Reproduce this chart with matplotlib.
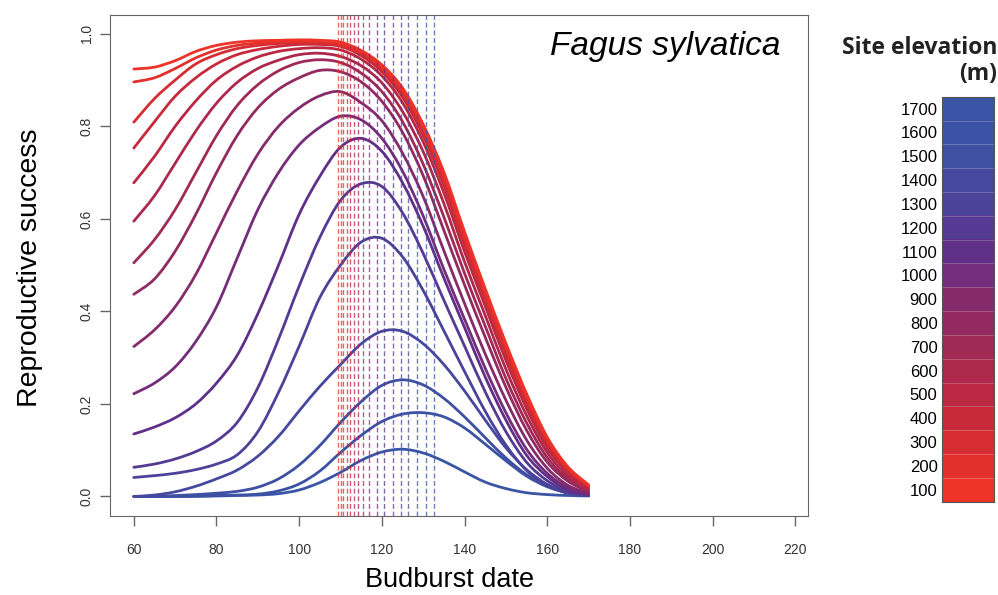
import matplotlib
matplotlib.use('Agg')
import matplotlib.pyplot as plt
from matplotlib.colors import ListedColormap
from matplotlib.path import Path
from matplotlib.patches import PathPatch
import numpy as np

# Budburst dates (days) where each curve is sampled
dates = [60, 65, 70, 75, 80, 85, 90, 95, 100, 105, 110, 115,
         120, 125, 130, 135, 140, 145, 150, 155, 160, 165, 170]

elevations = [100, 200, 300, 400, 500, 600, 700, 800, 900,
              1000, 1100, 1200, 1300, 1400, 1500, 1600, 1700]

# reproductive success, one list per site elevation
rs_100 = [.924, .928, .942, .962, .975, .982, .985, .986, .987, .986, .982, .964,
          .933, .883, .804, .701, .572, .449, .331, .222, .128, .064, .025]
rs_200 = [.896, .905, .925, .948, .965, .975, .980, .983, .984, .983, .978, .959,
          .927, .876, .796, .692, .563, .441, .323, .215, .123, .061, .023]
rs_300 = [.809, .860, .900, .935, .955, .968, .975, .979, .981, .981, .975, .955,
          .923, .870, .789, .682, .555, .433, .315, .209, .119, .059, .022]
rs_400 = [.753, .810, .865, .905, .935, .955, .966, .973, .977, .977, .973, .953,
          .918, .863, .780, .672, .544, .425, .307, .201, .113, .056, .021]
rs_500 = [.678, .735, .800, .855, .900, .930, .950, .962, .968, .970, .965, .945,
          .909, .851, .766, .656, .529, .411, .294, .190, .105, .051, .018]
rs_600 = [.595, .650, .720, .790, .850, .895, .925, .943, .955, .958, .951, .931,
          .894, .832, .745, .633, .507, .391, .275, .175, .095, .044, .015]
rs_700 = [.505, .555, .620, .700, .780, .845, .890, .920, .938, .944, .938, .915,
          .875, .810, .718, .604, .482, .368, .255, .159, .084, .038, .012]
rs_800 = [.437, .470, .530, .610, .700, .780, .840, .880, .905, .921, .918, .896,
          .854, .787, .693, .575, .457, .344, .236, .143, .074, .033, .010]
rs_900 = [.324, .360, .410, .480, .570, .660, .740, .800, .840, .866, .875, .851,
          .812, .742, .648, .531, .417, .308, .208, .122, .061, .024, .007]
rs_1000 = [.222, .245, .280, .335, .410, .515, .620, .700, .760, .798, .822, .814,
           .774, .703, .606, .491, .383, .277, .181, .102, .050, .019, .005]
rs_1100 = [.135, .150, .170, .200, .245, .305, .395, .500, .610, .692, .755, .774,
           .746, .678, .584, .472, .365, .258, .165, .089, .043, .014, .004]
rs_1200 = [.063, .070, .081, .097, .120, .160, .235, .340, .455, .560, .640, .676,
           .670, .613, .525, .424, .325, .226, .140, .074, .034, .011, .003]
rs_1300 = [.041, .045, .050, .058, .070, .090, .140, .225, .325, .430, .500, .550,
           .558, .518, .445, .358, .270, .184, .111, .056, .024, .007, .002]
rs_1400 = [0, .003, .010, .022, .038, .057, .087, .130, .185, .238, .285, .330,
           .357, .357, .330, .285, .228, .165, .105, .058, .026, .009, .002]
rs_1500 = [0, 0, .002, .004, .007, .011, .020, .038, .068, .110, .160, .205,
           .240, .252, .241, .212, .172, .127, .083, .047, .022, .008, .002]
rs_1600 = [0, 0, 0, .001, .002, .003, .005, .012, .027, .055, .095, .132,
           .162, .178, .181, .172, .148, .113, .077, .044, .021, .008, .002]
rs_1700 = [0, 0, 0, 0, .001, .002, .003, .006, .014, .030, .052, .078,
           .096, .102, .094, .076, .053, .031, .017, .008, .004, .002, .001]

# mean budburst date at each elevation (dashed lines)
budburst = [109.3, 110.0, 110.7, 111.5, 112.3, 113.3, 114.3, 115.5, 117.0,
            118.8, 120.5, 122.6, 124.6, 126.4, 128.4, 130.7, 132.7]

curves = [rs_100, rs_200, rs_300, rs_400, rs_500, rs_600, rs_700, rs_800, rs_900,
          rs_1000, rs_1100, rs_1200, rs_1300, rs_1400, rs_1500, rs_1600, rs_1700]

colores = ['#EE3328', '#E2302D', '#D62D33', '#C92A3A', '#BB2842', '#AD284B',
           '#A02955', '#922A60', '#852B6B', '#742D7A', '#603089', '#553A93',
           '#4B429A', '#45489E', '#3F4FA2', '#3C52A4', '#3A55A6']


def curva_suave(xs, ys):
    # trazo Bezier que pasa por los puntos leidos (como lines(smooth) en R)
    pts = np.column_stack([xs, ys]).astype(float)
    verts = [pts[0]]
    codes = [Path.MOVETO]
    n = len(pts)
    for k in range(n - 1):
        p0 = pts[max(k - 1, 0)]
        p1 = pts[k]
        p2 = pts[k + 1]
        p3 = pts[min(k + 2, n - 1)]
        verts += [p1 + (p2 - p0) / 6, p2 - (p3 - p1) / 6, p2]
        codes += [Path.CURVE4] * 3
    return Path(verts, codes)


fig = plt.figure(figsize=(9.98, 5.95), dpi=100)
ax = fig.add_axes([0.110, 0.133, 0.700, 0.842])

# lineas verticales discontinuas
for fecha, col in zip(budburst, colores):
    ax.axvline(fecha, color=col, linestyle=(0, (3.5, 2)), linewidth=1.0, alpha=0.75)

# curvas, de azul (alto) a rojo (bajo) para que el rojo quede encima
for vals, col in reversed(list(zip(curves, colores))):
    ax.add_patch(PathPatch(curva_suave(dates, vals), facecolor='none', edgecolor=col,
                           linewidth=2.0, capstyle='round', joinstyle='round'))

ax.set_xlim(54.19, 223.15)
ax.set_ylim(-0.042, 1.041)
ax.set_xticks(range(60, 221, 20))
ax.set_yticks([0, 0.2, 0.4, 0.6, 0.8, 1.0])
ax.set_yticklabels(['0.0', '0.2', '0.4', '0.6', '0.8', '1.0'], rotation=90, va='center')
for s in ax.spines.values():
    s.set_color('#666666')
ax.tick_params(direction='out', length=7.5, color='#666666', labelcolor='#333333',
               labelsize=10, width=1)
ax.tick_params(axis='x', pad=12)
ax.tick_params(axis='y', pad=4)
for lab in ax.get_xticklabels() + ax.get_yticklabels():
    lab.set_family('Liberation Sans')

ax.text(665 / 998, 1 - 47 / 595, 'Fagus sylvatica', transform=fig.transFigure,
        fontsize=24, style='italic', family='Liberation Sans', ha='center', va='center')
fig.text(450 / 998, 1 - 580 / 595, 'Budburst date', fontsize=19.5,
         family='Liberation Sans', ha='center', va='center')
fig.text(30 / 998, 1 - 268 / 595, 'Reproductive success', fontsize=20.5,
         family='Liberation Sans', ha='center', va='center', rotation=90)

# barra de colores
cax = fig.add_axes([0.9436, 0.1568, 0.0524, 0.6807])
cax.imshow(np.arange(len(elevations)).reshape(-1, 1), cmap=ListedColormap(colores),
           origin='lower', aspect='auto')
for k in range(len(elevations) - 1):
    cax.axhline(k + 0.5, color='white', linewidth=0.6, alpha=0.25)
cax.set_xticks([])
cax.set_yticks(range(len(elevations)))
cax.set_yticklabels([str(e) for e in elevations])
cax.tick_params(axis='y', length=0, labelsize=12, pad=3)
for s in cax.spines.values():
    s.set_color('#555555')
for lab in cax.get_yticklabels():
    lab.set_family('Liberation Sans')

fig.text(0.999, 1 - 48 / 595, 'Site elevation', fontsize=16.5, weight='bold',
         family='Open Sans', ha='right', va='center', color='#222222')
fig.text(0.999, 1 - 74 / 595, '(m)', fontsize=16.5, weight='bold',
         family='Open Sans', ha='right', va='center', color='#222222')

fig.savefig('out.png', dpi=100)
